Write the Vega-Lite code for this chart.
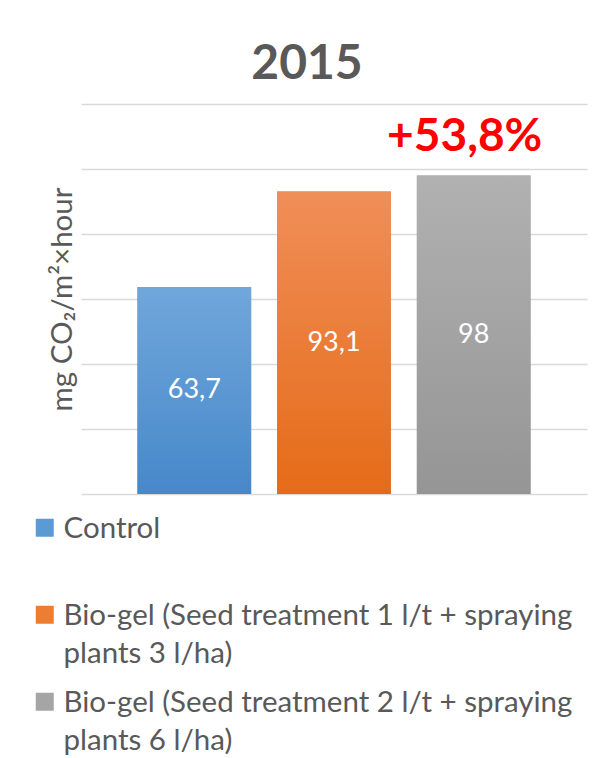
{
  "$schema": "https://vega.github.io/schema/vega-lite/v6.json",
  "width": 506,
  "height": 390,
  "autosize": {"type": "none"},
  "padding": {"left": 81, "top": 104, "right": 24, "bottom": 264},
  "background": "white",
  "config": {"view": {"stroke": null}, "font": "Lato"},
  "title": {"text": "2015", "fontSize": 48, "fontWeight": "bold", "color": "#595959", "font": "Lato", "anchor": "middle", "dx": -27, "offset": 15},
  "data": {"values": [
    {"treatment": "Control", "value": 63.7, "label": "63,7"},
    {"treatment": "Bio-gel (Seed treatment 1 l/t + spraying plants 3 l/ha)", "value": 93.1, "label": "93,1"},
    {"treatment": "Bio-gel (Seed treatment 2 l/t + spraying plants 6 l/ha)", "value": 98, "label": "98", "note": "+53,8%"}
  ]},
  "encoding": {
    "x": {"field": "treatment", "type": "nominal", "sort": null, "axis": null, "scale": {"paddingInner": 0.186, "paddingOuter": 0.404}}
  },
  "layer": [
    {
      "mark": {"type": "bar"},
      "encoding": {
        "y": {"field": "value", "type": "quantitative", "scale": {"domain": [0, 120]},
          "axis": {"title": "mg CO₂/m²×hour", "titleFontSize": 29.5, "titleFont": "Lato", "titleFontWeight": "normal", "titleColor": "#595959", "titlePadding": 4, "labels": false, "ticks": false, "domain": false, "grid": true, "gridColor": "#D9D9D9", "gridWidth": 1.5, "values": [0, 20, 40, 60, 80, 100, 120]}},
        "color": {"field": "treatment", "type": "nominal", "sort": null,
          "scale": {"domain": ["Control", "Bio-gel (Seed treatment 1 l/t + spraying plants 3 l/ha)", "Bio-gel (Seed treatment 2 l/t + spraying plants 6 l/ha)"], "range": ["#5B9BD5", "#ED7D31", "#A5A5A5"]},
          "legend": {"title": null, "orient": "none", "legendX": -51, "legendY": 409, "direction": "vertical", "symbolType": "square", "symbolSize": 324, "symbolStrokeWidth": 0, "labelFont": "Lato", "labelFontSize": 29.5, "labelColor": "#595959", "labelLimit": 0, "labelOffset": 4, "gridAlign": "all", "rowPadding": 18, "labelBaseline": "top",
            "labelExpr": "datum.label == 'Control' ? ['Control', ' '] : [substring(datum.label, 0, indexof(datum.label, 'spraying') + 8), substring(datum.label, indexof(datum.label, 'spraying') + 9)]",
            "encode": {"labels": {"update": {"lineHeight": {"value": 38}, "dy": {"value": -13}}}}}}
      }
    },
    {
      "mark": {"type": "bar"},
      "encoding": {
        "y": {"field": "value", "type": "quantitative"},
        "fill": {
          "condition": [
            {"test": "datum.treatment === 'Control'", "value": {"gradient": "linear", "x1": 0, "y1": 0, "x2": 0, "y2": 1, "stops": [{"offset": 0, "color": "#70A7DB"}, {"offset": 1, "color": "#4788CA"}]}},
            {"test": "datum.value > 95", "value": {"gradient": "linear", "x1": 0, "y1": 0, "x2": 0, "y2": 1, "stops": [{"offset": 0, "color": "#B1B1B1"}, {"offset": 1, "color": "#959595"}]}}
          ],
          "value": {"gradient": "linear", "x1": 0, "y1": 0, "x2": 0, "y2": 1, "stops": [{"offset": 0, "color": "#F08E58"}, {"offset": 1, "color": "#E56B18"}]}
        }
      }
    },
    {
      "transform": [{"calculate": "datum.value / 2", "as": "mid"}],
      "mark": {"type": "text", "color": "white", "fontSize": 27, "font": "Lato", "baseline": "middle"},
      "encoding": {
        "y": {"field": "mid", "type": "quantitative"},
        "text": {"field": "label"}
      }
    },
    {
      "transform": [{"filter": "datum.note != null"}],
      "mark": {"type": "text", "color": "#FF0000", "fontSize": 46, "fontWeight": "bold", "font": "Lato", "baseline": "alphabetic", "dy": -25, "dx": -9},
      "encoding": {
        "y": {"field": "value", "type": "quantitative"},
        "text": {"field": "note"}
      }
    }
  ]
}
